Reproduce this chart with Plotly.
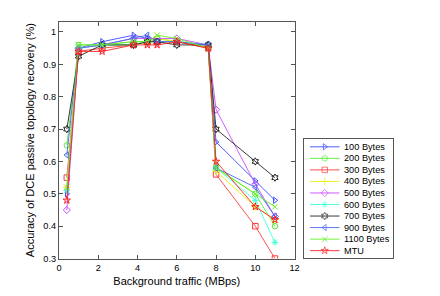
import plotly.graph_objects as go

# ---- data ----
traffic = [0.4, 1, 2.2, 3.8, 4.5, 5, 6, 7.6, 8, 10, 11]
series_names = ["100 Bytes", "200 Bytes", "300 Bytes", "400 Bytes", "500 Bytes",
                "600 Bytes", "700 Bytes", "900 Bytes", "1100 Bytes", "MTU"]
acc_100 = [0.50, 0.95, 0.97, 0.99, 0.98, 0.97, 0.97, 0.96, 0.66, 0.54, 0.48]
acc_200 = [0.65, 0.96, 0.96, 0.97, 0.97, 0.98, 0.97, 0.95, 0.58, 0.50, 0.40]
acc_300 = [0.55, 0.94, 0.95, 0.96, 0.97, 0.97, 0.97, 0.95, 0.56, 0.40, 0.30]
acc_400 = [0.52, 0.95, 0.96, 0.96, 0.97, 0.98, 0.97, 0.96, 0.57, 0.46, 0.42]
acc_500 = [0.45, 0.95, 0.96, 0.98, 0.98, 0.98, 0.98, 0.96, 0.76, 0.53, 0.43]
acc_600 = [0.51, 0.95, 0.96, 0.96, 0.97, 0.97, 0.97, 0.96, 0.58, 0.48, 0.35]
acc_700 = [0.70, 0.925, 0.96, 0.96, 0.97, 0.97, 0.96, 0.96, 0.70, 0.60, 0.55]
acc_900 = [0.62, 0.95, 0.96, 0.98, 0.99, 0.97, 0.97, 0.96, 0.58, 0.52, 0.43]
acc_1100 = [0.52, 0.96, 0.96, 0.97, 0.97, 0.99, 0.98, 0.95, 0.58, 0.50, 0.46]
acc_mtu = [0.48, 0.94, 0.94, 0.96, 0.96, 0.96, 0.97, 0.95, 0.60, 0.46, 0.42]
all_values = [acc_100, acc_200, acc_300, acc_400, acc_500,
              acc_600, acc_700, acc_900, acc_1100, acc_mtu]

x_ticks = [0, 2, 4, 6, 8, 10, 12]
y_ticks = [0.3, 0.4, 0.5, 0.6, 0.7, 0.8, 0.9, 1.0]
y_tick_labels = ["0.3", "0.4", "0.5", "0.6", "0.7", "0.8", "0.9", "1"]

# ---- styles ----
colors = ["#3b4cff", "#55ee33", "#ff3b3b", "#eeee11", "#c74cff",
          "#44ffd5", "#222222", "#4a66f0", "#66f022", "#ff2020"]
symbols = ["triangle-right-open", "circle-open", "square-open", "cross-thin-open",
           "diamond-open", "asterisk-open", "hexagram-open", "triangle-left-open",
           "x-thin-open", "star-open"]

FONT = "Liberation Sans, Arial, sans-serif"
FS = 9.2
MS = 5.5
W, H = 440, 296
PL, PR, PT, PB = 57, 297, 22, 263          # plot area in pixels
LL, LR, LT, LB = 307, 397, 141.7, 262.6   # legend box in pixels

fig = go.Figure()

for name, vals, c, s in zip(series_names, all_values, colors, symbols):
    fig.add_trace(go.Scatter(
        x=traffic, y=vals, mode="lines+markers", name=name, showlegend=False,
        line=dict(color=c, width=0.9),
        marker=dict(symbol=s, size=MS, color=c, line=dict(color=c, width=1)),
        xaxis="x", yaxis="y"))

# ---- legend drawn in an inset axis ----
n = len(series_names)
for i, (name, c, s) in enumerate(zip(series_names, colors, symbols)):
    fig.add_trace(go.Scatter(
        x=[5.7, 20.7, 35.7], y=[i, i, i], mode="lines+markers", showlegend=False,
        line=dict(color=c, width=0.9),
        marker=dict(symbol=s, size=[0, MS, 0], color=c, line=dict(color=c, width=1)),
        xaxis="x2", yaxis="y2", hoverinfo="skip"))
    fig.add_annotation(x=38, y=i, xref="x2", yref="y2", text=name, showarrow=False,
                       xanchor="left", yanchor="middle",
                       font=dict(family=FONT, size=FS, color="black"))

pad_top = 7.6 / 11.7
fig.update_layout(
    width=W, height=H,
    margin=dict(l=0, r=0, t=0, b=0),
    paper_bgcolor="white", plot_bgcolor="white",
    font=dict(family=FONT, size=FS, color="black"),
    xaxis=dict(domain=[PL / W, PR / W], range=[0, 12], tickvals=x_ticks,
               anchor="y",
               ticks="inside", ticklen=4, tickcolor="#555", showline=True,
               linecolor="#555", linewidth=1, mirror="ticks", showgrid=False,
               zeroline=False, title=dict(text="Background traffic (MBps)", standoff=5),
               tickfont=dict(size=FS)),
    yaxis=dict(domain=[(H - PB) / H, (H - PT) / H], range=[0.3, 1.032],
               anchor="x",
               tickvals=y_ticks, ticktext=y_tick_labels,
               ticks="inside", ticklen=4, tickcolor="#555", showline=True,
               linecolor="#555", linewidth=1, mirror="ticks", showgrid=False,
               zeroline=False,
               title=dict(text="Accuracy of DCE passive topology recovery (%)", standoff=6),
               tickfont=dict(size=FS)),
    xaxis2=dict(domain=[LL / W, LR / W], range=[0, LR - LL], anchor="y2",
                showticklabels=False,
                ticks="", showline=True, mirror=True, linecolor="#555", linewidth=1,
                showgrid=False, zeroline=False, fixedrange=True),
    yaxis2=dict(domain=[(H - LB) / H, (H - LT) / H], anchor="x2",
                range=[n - 1 + pad_top, -pad_top], showticklabels=False,
                ticks="", showline=True, mirror=True, linecolor="#555", linewidth=1,
                showgrid=False, zeroline=False, fixedrange=True),
)

fig.write_html("out.html", config={"displayModeBar": False},
               post_script="document.body.style.margin='0';")
